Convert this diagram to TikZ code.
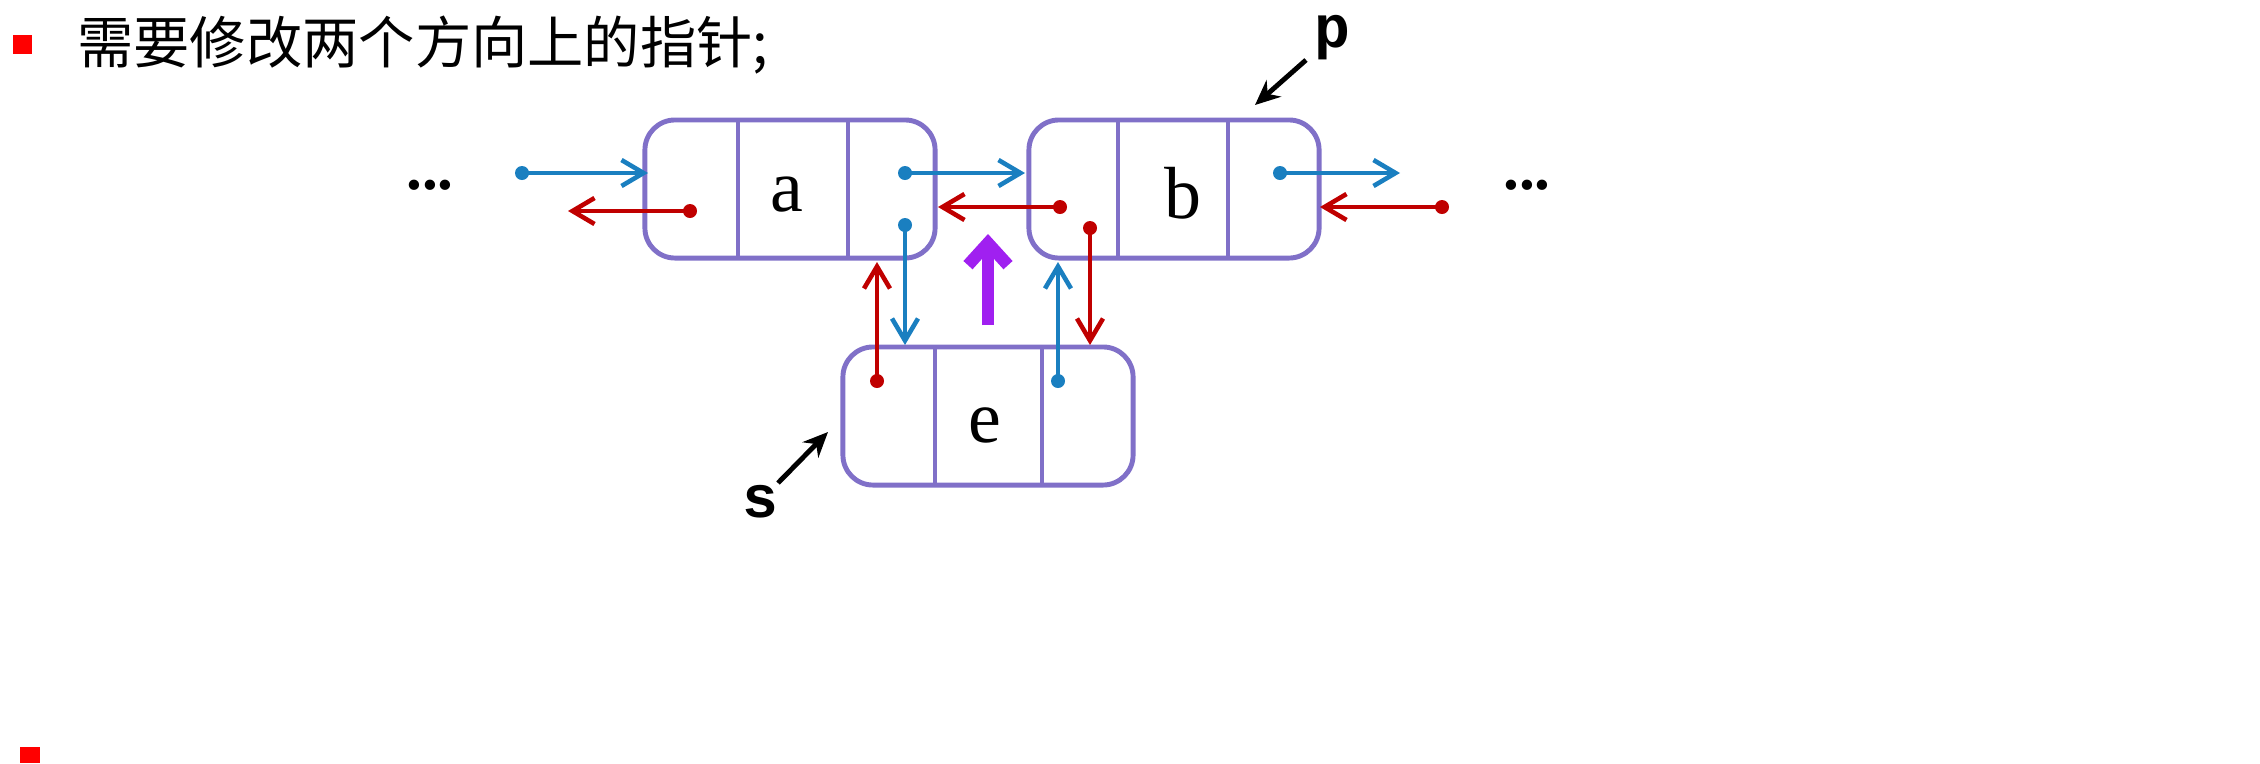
\documentclass[tikz,border=0pt]{standalone}
\usepackage{fontspec}
\newfontfamily\cjk{Noto Sans CJK SC}
\setmainfont{Liberation Serif}
\setmonofont{Liberation Mono}
\usetikzlibrary{arrows.meta}
\usetikzlibrary{positioning}
\definecolor{boxline}{RGB}{128,112,200}
\definecolor{ptrblue}{RGB}{26,127,192}
\definecolor{ptrred}{RGB}{192,0,0}
\definecolor{ptrpurple}{RGB}{160,32,240}
\begin{document}
\begin{tikzpicture}
[
	x = 0.01cm, y = -0.01cm,
	Box/.style		= {draw = boxline, line width = 1.4pt, rounded corners = 0.3cm, inner sep = 0cm, minimum width = 2.9cm, minimum height = 1.38cm},
	Cell/.style		= {font = \fontsize{21}{21}\selectfont},
	Blue/.style		= {draw = ptrblue, line width = 1.3pt, -{Straight Barb[length = 0.22cm, width = 0.26cm]}},
	Red/.style		= {draw = ptrred, line width = 1.3pt, -{Straight Barb[length = 0.22cm, width = 0.26cm]}},
	Dot/.style		= {circle, inner sep = 0cm, minimum size = 0.14cm},
]

	\useasboundingbox (0,0) rectangle (2260,763);

	% heading
	\fill [red] (13,35) rectangle (32,54);
	\node (title) [anchor = west, font = \cjk\fontsize{16}{16}\selectfont] at (65,45) {需要修改两个方向上的指针;};
	\fill [red] (20,747) rectangle (40,763);

	% list nodes
	\node (a) [Box] at (790,189) {};
	\node (b) [Box] at (1174,189) {};
	\node (e) [Box] at (988,416) {};
	\draw [boxline, line width = 1.4pt] (738,120) -- (738,258) (848,120) -- (848,258);
	\draw [boxline, line width = 1.4pt] (1118,120) -- (1118,258) (1228,120) -- (1228,258);
	\draw [boxline, line width = 1.4pt] (935,347) -- (935,485) (1042,347) -- (1042,485);
	\node (la) [Cell] at (787,195) {a};
	\node (lb) [Cell] at (1183,193) {b};
	\node (le) [Cell] at (985,425) {e};

	\node (dl) [font = \bfseries\fontsize{18}{18}\selectfont] at (430,185) {...};
	\node (dr) [font = \bfseries\fontsize{18}{18}\selectfont] at (1527,185) {...};

	% pointers
	\node (d1) [Dot, fill = ptrblue] at (522,173) {};
	\node (d2) [Dot, fill = ptrblue] at (905,173) {};
	\node (d3) [Dot, fill = ptrblue] at (1280,173) {};
	\node (d4) [Dot, fill = ptrblue] at (905,225) {};
	\node (d5) [Dot, fill = ptrblue] at (1058,381) {};
	\node (r1) [Dot, fill = ptrred] at (690,211) {};
	\node (r2) [Dot, fill = ptrred] at (1060,207) {};
	\node (r3) [Dot, fill = ptrred] at (1442,207) {};
	\node (r4) [Dot, fill = ptrred] at (877,381) {};
	\node (r5) [Dot, fill = ptrred] at (1090,228) {};

	\coordinate (t1) at (648,173);
	\coordinate (t2) at (1025,173);
	\coordinate (t3) at (1400,173);
	\coordinate (t4) at (905,345);
	\coordinate (t5) at (1058,262);
	\coordinate (u1) at (568,211);
	\coordinate (u2) at (938,207);
	\coordinate (u3) at (1320,207);
	\coordinate (u4) at (877,262);
	\coordinate (u5) at (1090,345);

	\foreach \s/\t in {d1/t1, d2/t2, d3/t3, d4/t4, d5/t5}
		\draw [Blue] (\s.center) -- (\t);
	\foreach \s/\t in {r1/u1, r2/u2, r3/u3, r4/u4, r5/u5}
		\draw [Red] (\s.center) -- (\t);

	\coordinate (m1) at (988,325);
	\coordinate (m2) at (988,234);
	\draw [ptrpurple, line width = 3.5pt, -{Straight Barb[length = 0.22cm, width = 0.4cm]}] (m1) -- (m2);

	% external pointers
	\node (p) [font = \ttfamily\bfseries\fontsize{17}{17}\selectfont] at (1332,38) {p};
	\node (s) [font = \ttfamily\bfseries\fontsize{17}{17}\selectfont] at (760,502) {s};
	\coordinate (pt) at (1255,105);
	\coordinate (st) at (828,432);
	\draw [line width = 1.4pt, -{Stealth[length = 0.25cm, width = 0.22cm]}] (1306,60) -- (pt);
	\draw [line width = 1.4pt, -{Stealth[length = 0.25cm, width = 0.22cm]}] (778,483) -- (st);

\end{tikzpicture}
\end{document}
